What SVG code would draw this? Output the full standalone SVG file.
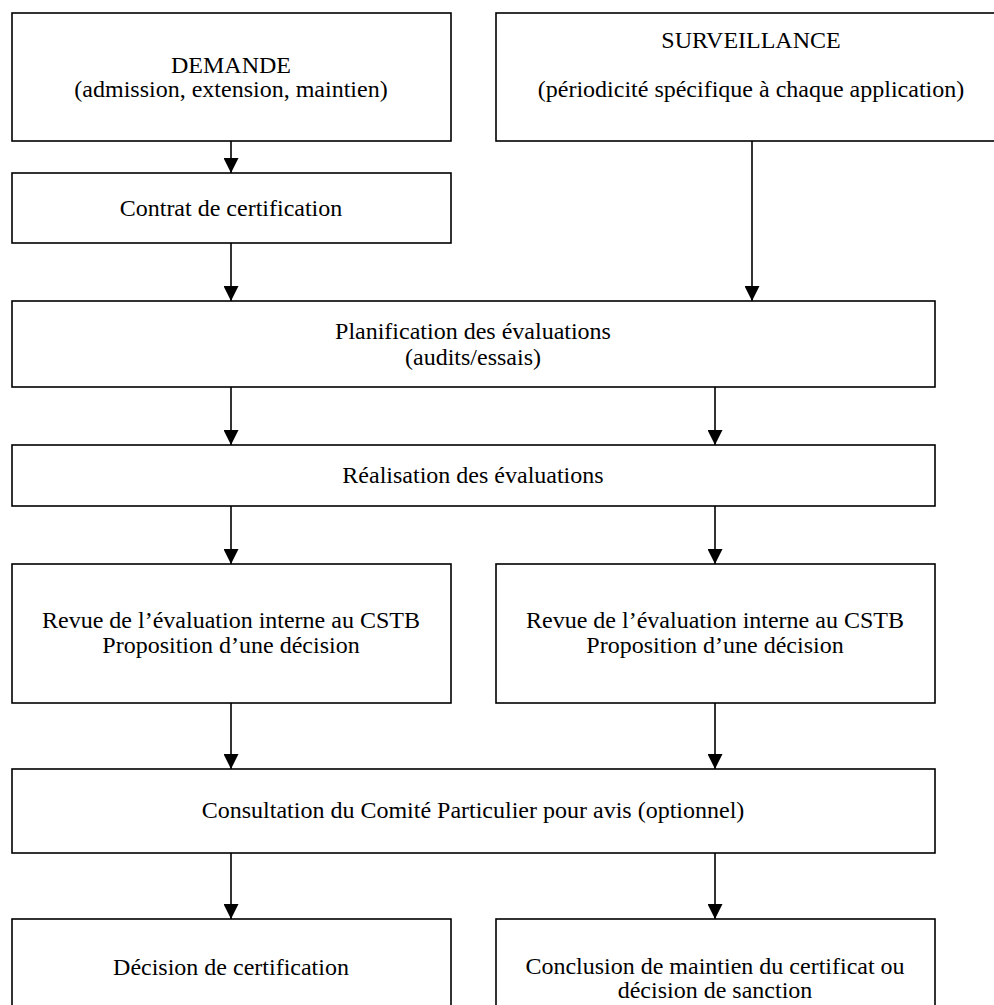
<svg xmlns="http://www.w3.org/2000/svg" width="994" height="1005" viewBox="0 0 994 1005">
<style>
.box{fill:#fff;stroke:#000;stroke-width:1.6}
.t{font-family:"Liberation Serif","Times New Roman",serif;font-size:24px;fill:#000;text-anchor:middle}
.c{stroke:#000;stroke-width:1.6;fill:none;marker-end:url(#ah)}
</style>
<defs>
<marker id="ah" viewBox="0 0 15 15" refX="15" refY="7.5" markerWidth="15" markerHeight="15" markerUnits="userSpaceOnUse" orient="auto">
<path d="M0,0 L15,7.5 L0,15 z" fill="#000"/>
</marker>
</defs>
<rect width="994" height="1005" fill="#fff"/>
<g id="connectors">
<line class="c" x1="231" y1="141" x2="231" y2="173"/>
<line class="c" x1="231" y1="243" x2="231" y2="301"/>
<line class="c" x1="752" y1="141" x2="752" y2="301"/>
<line class="c" x1="231" y1="387" x2="231" y2="445"/>
<line class="c" x1="715" y1="387" x2="715" y2="445"/>
<line class="c" x1="231" y1="506" x2="231" y2="564"/>
<line class="c" x1="715" y1="506" x2="715" y2="564"/>
<line class="c" x1="231" y1="703" x2="231" y2="769"/>
<line class="c" x1="715" y1="703" x2="715" y2="769"/>
<line class="c" x1="231" y1="853" x2="231" y2="919"/>
<line class="c" x1="715" y1="853" x2="715" y2="919"/>
</g>
<g id="demande">
<rect class="box" x="12" y="13" width="439" height="128"/>
<text class="t" x="231" y="73">DEMANDE</text>
<text class="t" x="231" y="97">(admission, extension, maintien)</text>
</g>
<g id="surveillance">
<rect class="box" x="496" y="13" width="510" height="128"/>
<text class="t" x="751" y="48">SURVEILLANCE</text>
<text class="t" x="751" y="97">(périodicité spécifique à chaque application)</text>
</g>
<g id="contrat">
<rect class="box" x="12" y="173" width="439" height="70"/>
<text class="t" x="231" y="216">Contrat de certification</text>
</g>
<g id="planification">
<rect class="box" x="12" y="301" width="923" height="86"/>
<text class="t" x="473" y="339">Planification des évaluations</text>
<text class="t" x="473" y="365">(audits/essais)</text>
</g>
<g id="realisation">
<rect class="box" x="12" y="445" width="923" height="61"/>
<text class="t" x="473" y="483">Réalisation des évaluations</text>
</g>
<g id="revue-gauche">
<rect class="box" x="12" y="564" width="439" height="139"/>
<text class="t" x="231" y="628">Revue de l’évaluation interne au CSTB</text>
<text class="t" x="231" y="653">Proposition d’une décision</text>
</g>
<g id="revue-droite">
<rect class="box" x="496" y="564" width="439" height="139"/>
<text class="t" x="715" y="628">Revue de l’évaluation interne au CSTB</text>
<text class="t" x="715" y="653">Proposition d’une décision</text>
</g>
<g id="consultation">
<rect class="box" x="12" y="769" width="923" height="84"/>
<text class="t" x="473" y="818">Consultation du Comité Particulier pour avis (optionnel)</text>
</g>
<g id="decision">
<rect class="box" x="12" y="919" width="439" height="100"/>
<text class="t" x="231" y="975">Décision de certification</text>
</g>
<g id="conclusion">
<rect class="box" x="496" y="919" width="439" height="100"/>
<text class="t" x="715" y="974">Conclusion de maintien du certificat ou</text>
<text class="t" x="715" y="998">décision de sanction</text>
</g>
</svg>
